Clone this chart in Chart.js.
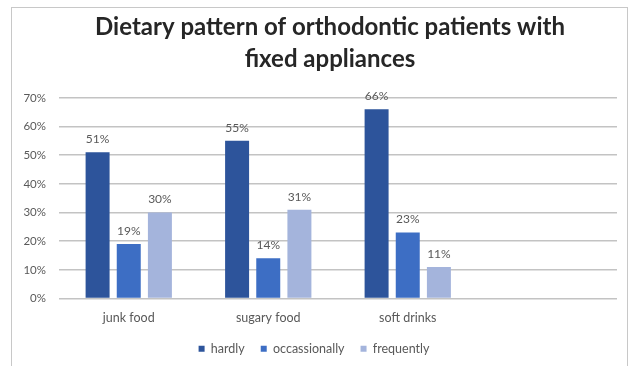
<!DOCTYPE html>
<html>
<head>
<meta charset="utf-8">
<script src="https://cdn.jsdelivr.net/npm/chart.js@4.4.1/dist/chart.umd.min.js"></script>
<style>
  body { margin: 0; background: #fff; }
  #wrap { width: 631px; height: 366px; position: relative; }
</style>
</head>
<body>
<div id="wrap"><canvas id="myChart"></canvas></div>
<script>
// categories (last slot is left empty, as in the original sheet)
const categories = ['junk food', 'sugary food', 'soft drinks', ''];
const hardly = [51, 55, 66, null];
const occassionally = [19, 14, 23, null];
const frequently = [30, 31, 11, null];
const yTicks = [0, 10, 20, 30, 40, 50, 60, 70];

const fontFamily = 'Lato, "Liberation Sans", sans-serif';

// white background + thin frame round the whole chart
const framePlugin = {
	id: 'frame',
	afterLayout(chart) {
		// title sits a little right of the plot centre
		chart.titleBlock.left += 16;
		chart.titleBlock.right += 16;
	},
	beforeDraw(chart) {
		const ctx = chart.ctx;
		ctx.save();
		ctx.fillStyle = '#fff';
		ctx.fillRect(0, 0, chart.width, chart.height);
		ctx.strokeStyle = '#c8c8c8';
		ctx.lineWidth = 1;
		ctx.strokeRect(11.5, 7.5, 616, 370);
		ctx.restore();
	}
};

// value labels above each bar
const valueLabels = {
	id: 'valueLabels',
	afterDatasetsDraw(chart) {
		const ctx = chart.ctx;
		ctx.save();
		ctx.font = '12px ' + fontFamily;
		ctx.fillStyle = '#595959';
		ctx.textAlign = 'center';
		ctx.textBaseline = 'middle';
		chart.data.datasets.forEach((ds, i) => {
			chart.getDatasetMeta(i).data.forEach((bar, j) => {
				const v = ds.data[j];
				if (v == null) return;
				ctx.fillText(v + '%', bar.x, bar.y - 13);
			});
		});
		ctx.restore();
	}
};

window.onload = () => {
	const ctx = document.getElementById('myChart').getContext('2d');
	new Chart(ctx, {
		type: 'bar',
		data: {
			labels: categories,
			datasets: [
				{ label: 'hardly', data: hardly, backgroundColor: '#2d549b' },
				{ label: 'occassionally', data: occassionally, backgroundColor: '#3d6ec4' },
				{ label: 'frequently', data: frequently, backgroundColor: '#a4b4dc' }
			]
		},
		options: {
			responsive: true,
			maintainAspectRatio: false,
			animation: false,
			categoryPercentage: 0.67,
			barPercentage: 0.77,
			layout: {
				padding: { left: 11, right: 14, top: 7, bottom: 1 }
			},
			scales: {
				x: {
					afterFit(scale) { scale.height = 28; },
					grid: { display: false, drawTicks: false },
					border: { display: false },
					ticks: {
						padding: 12,
						color: '#595959',
						font: { family: fontFamily, size: 12.5 }
					}
				},
				y: {
					min: 0,
					max: 70,
					afterFit(scale) { scale.width = 48; },
					afterBuildTicks(scale) { scale.ticks = yTicks.map(v => ({ value: v })); },
					grid: { color: '#c3c3c3', lineWidth: 1.5, drawTicks: false },
					border: { display: false },
					ticks: {
						padding: 13,
						color: '#595959',
						font: { family: fontFamily, size: 11.5 },
						callback: v => v + '%'
					}
				}
			},
			plugins: {
				title: {
					display: true,
					text: ['Dietary pattern of orthodontic patients with', 'fixed appliances'],
					color: '#262626',
					font: { family: fontFamily, size: 24, weight: 'bold', lineHeight: 1.33 },
					padding: { top: 4, bottom: 23 }
				},
				legend: {
					position: 'bottom',
					labels: {
						boxWidth: 6,
						boxHeight: 6,
						padding: 16,
						color: '#595959',
						font: { family: fontFamily, size: 12.5 }
					}
				},
				tooltip: { enabled: false }
			}
		},
		plugins: [framePlugin, valueLabels]
	});
};
</script>
</body>
</html>
